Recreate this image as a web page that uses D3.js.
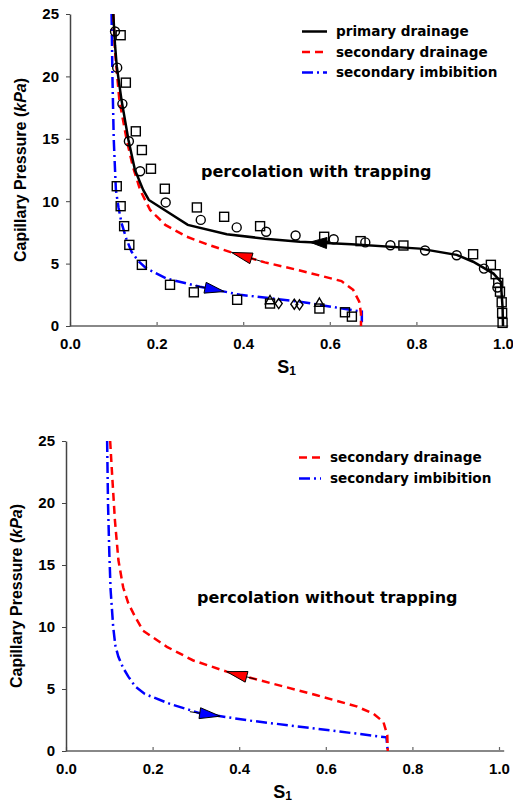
<!DOCTYPE html>
<html>
<head>
<meta charset="utf-8">
<script src="https://cdn.jsdelivr.net/npm/d3@7"></script>
<style>
  body { margin: 0; background: #fff; }
  svg { display: block; }
</style>
</head>
<body>
<svg id="chart" width="513" height="809"></svg>
<script>
// saturation S1 vs capillary pressure (kPa)

// --- top panel: percolation with trapping ---
const primaryDrainage = [
  [0.100, 25], [0.104, 22.5], [0.108, 20.8], [0.119, 18.1], [0.135, 14.9],
  [0.150, 12.5], [0.169, 10.9], [0.182, 10.1], [0.272, 8.1], [0.362, 7.35],
  [0.45, 7.0], [0.531, 6.76], [0.65, 6.55], [0.808, 6.2], [0.893, 5.7],
  [0.931, 5.15], [0.978, 4.2], [0.995, 3.55], [0.999, 1.5], [1.0, 0]
];
const secDrainageTrap = [
  [0.100, 25], [0.104, 22], [0.114, 18.1], [0.131, 14.9], [0.145, 12.8],
  [0.162, 10.9], [0.185, 9.3], [0.22, 8.1], [0.27, 7.15], [0.32, 6.5],
  [0.377, 5.85], [0.45, 5.1], [0.531, 4.45], [0.627, 3.6], [0.654, 2.9],
  [0.668, 1.95], [0.672, 1.0], [0.672, 0]
];
const secImbibitionTrap = [
  [0.096, 25], [0.098, 20], [0.101, 15], [0.104, 12.5], [0.106, 10.9],
  [0.112, 9.5], [0.119, 8.25], [0.13, 7.0], [0.142, 5.95], [0.158, 5.2],
  [0.177, 4.6], [0.223, 3.8], [0.30, 3.15], [0.393, 2.5], [0.531, 1.95],
  [0.674, 1.15], [0.674, 0]
];
const squarePts = [
  [0.117, 23.3], [0.129, 19.5], [0.152, 15.6], [0.166, 14.1], [0.187, 12.6],
  [0.108, 11.2], [0.117, 9.6], [0.125, 8.0], [0.137, 6.5], [0.166, 4.9],
  [0.231, 3.3], [0.286, 2.7], [0.386, 2.1], [0.219, 11.0], [0.293, 9.5],
  [0.356, 8.75], [0.439, 8.0], [0.587, 7.15], [0.671, 6.8], [0.77, 6.45],
  [0.931, 5.75], [0.972, 4.9], [0.983, 4.15], [0.989, 3.45], [0.993, 2.75],
  [0.997, 1.9], [0.998, 1.05], [0.999, 0.25], [0.462, 1.8], [0.576, 1.4],
  [0.635, 1.1], [0.651, 0.75]
];
const circlePts = [
  [0.104, 23.6], [0.109, 20.7], [0.121, 17.8], [0.136, 14.8], [0.162, 12.4],
  [0.221, 9.9], [0.302, 8.5], [0.385, 7.9], [0.453, 7.55], [0.521, 7.25],
  [0.609, 6.95], [0.682, 6.7], [0.74, 6.47], [0.82, 6.05], [0.893, 5.67],
  [0.956, 4.6], [0.987, 3.08]
];
const trianglePts = [[0.462, 2.0], [0.576, 1.8]];
const diamondPts = [[0.482, 1.8], [0.518, 1.75], [0.530, 1.7]];

// --- bottom panel: percolation without trapping ---
const secDrainageNoTrap = [
  [0.102, 25], [0.107, 22], [0.113, 18.6], [0.121, 15.4], [0.132, 13.2],
  [0.144, 11.9], [0.16, 10.8], [0.178, 9.7], [0.233, 8.4], [0.294, 7.3],
  [0.371, 6.4], [0.448, 5.7], [0.579, 4.5], [0.671, 3.6], [0.71, 3.0],
  [0.733, 2.35], [0.742, 1.27], [0.743, 0]
];
const secImbibitionNoTrap = [
  [0.095, 25], [0.097, 20], [0.100, 16], [0.103, 13], [0.109, 10],
  [0.114, 8.5], [0.121, 7.6], [0.132, 6.7], [0.144, 6.0], [0.160, 5.2],
  [0.182, 4.6], [0.24, 3.8], [0.309, 3.05], [0.425, 2.45], [0.579, 1.8],
  [0.74, 1.1], [0.743, 0]
];

const xTicks = [0, 0.2, 0.4, 0.6, 0.8, 1.0];
const yTicks = [0, 5, 10, 15, 20, 25];

const svg = d3.select('#chart');

const styles = {
  primary: { color: '#000', dash: null, name: 'primary drainage' },
  drainage: { color: '#ff0000', dash: '8,5', name: 'secondary drainage' },
  imbibition: { color: '#0000ff', dash: '11,4,2,4', name: 'secondary imbibition' }
};

// interpolate a point on a curve at a given saturation (screen coords)
function pointAt(data, s, x, y) {
  for (let i = 0; i < data.length - 1; i++) {
    const a = data[i], b = data[i + 1];
    if ((s >= a[0] && s <= b[0]) && b[0] > a[0]) {
      const t = (s - a[0]) / (b[0] - a[0]);
      return [x(s), y(a[1] + t * (b[1] - a[1]))];
    }
  }
  return [x(s), y(data[data.length - 1][1])];
}

function drawPanel(p) {
  const g = svg.append('g');
  const x = d3.scaleLinear([0, 1], p.xRange);
  const y = d3.scaleLinear([0, 25], p.yRange);

  // x axis
  const xa = g.append('g')
    .attr('transform', `translate(0,${y(0)})`)
    .call(d3.axisBottom(x).tickValues(xTicks).tickFormat(d3.format('.1f'))
      .tickSizeInner(-4).tickSizeOuter(0).tickPadding(12));
  xa.select('.domain').remove();
  xa.selectAll('.tick line').attr('stroke', '#666').attr('stroke-width', 1.2);
  xa.selectAll('text').attr('font-family', 'Liberation Sans, Arial, sans-serif')
    .attr('font-weight', 'bold').attr('font-size', 15).attr('fill', '#000');
  g.append('line')
    .attr('x1', x(0)).attr('x2', x(1.012))
    .attr('y1', y(0)).attr('y2', y(0))
    .attr('stroke', '#888').attr('stroke-width', 2);

  // y axis
  const ya = g.append('g')
    .attr('transform', `translate(${x(0)},0)`)
    .call(d3.axisLeft(y).tickValues(yTicks).tickSizeInner(4).tickSizeOuter(0).tickPadding(7));
  ya.select('.domain').attr('stroke', '#444').attr('stroke-width', 1.5);
  ya.selectAll('.tick line').attr('stroke', '#444');
  ya.selectAll('text').attr('font-family', 'Liberation Sans, Arial, sans-serif')
    .attr('font-weight', 'bold').attr('font-size', 15).attr('fill', '#000');

  // axis titles
  const yt = g.append('text')
    .attr('transform', `translate(${p.yTitleX},${(y(0) + y(25)) / 2}) rotate(-90)`)
    .attr('text-anchor', 'middle')
    .attr('font-family', 'Liberation Sans, Arial, sans-serif')
    .attr('font-weight', 'bold').attr('font-size', 16);
  yt.append('tspan').text('Capillary Pressure (');
  yt.append('tspan').attr('font-style', 'italic').text('kPa');
  yt.append('tspan').text(')');

  const xt = g.append('text')
    .attr('x', (x(0) + x(1)) / 2).attr('y', y(0) + 47)
    .attr('text-anchor', 'middle')
    .attr('font-family', 'Liberation Sans, Arial, sans-serif')
    .attr('font-weight', 'bold').attr('font-size', 18);
  xt.append('tspan').text('S');
  xt.append('tspan').attr('font-size', 12).attr('dy', 2).text('1');

  // curves
  const line = d3.line().x(d => x(d[0])).y(d => y(d[1]));
  p.curves.forEach(c => {
    const st = styles[c.kind];
    g.append('path')
      .datum(c.data)
      .attr('d', line)
      .attr('fill', 'none')
      .attr('stroke', st.color)
      .attr('stroke-width', 2.5)
      .attr('stroke-dasharray', st.dash);
  });

  // markers
  if (p.markers) {
    const m = g.append('g').attr('fill', 'none').attr('stroke', '#000').attr('stroke-width', 1.4);
    m.selectAll('rect').data(p.markers.squares).join('rect')
      .attr('x', d => x(d[0]) - 4.5).attr('y', d => y(d[1]) - 4.5)
      .attr('width', 9).attr('height', 9);
    m.selectAll('circle').data(p.markers.circles).join('circle')
      .attr('cx', d => x(d[0])).attr('cy', d => y(d[1])).attr('r', 4.5);
    m.selectAll('path.tri').data(p.markers.triangles).join('path').attr('class', 'tri')
      .attr('d', d3.symbol(d3.symbolTriangle, 40))
      .attr('transform', d => `translate(${x(d[0])},${y(d[1])})`);
    m.selectAll('path.dia').data(p.markers.diamonds).join('path').attr('class', 'dia')
      .attr('d', 'M0,-5L3.5,0L0,5L-3.5,0Z')
      .attr('transform', d => `translate(${x(d[0])},${y(d[1])})`);
  }

  // direction arrows
  p.arrows.forEach(a => {
    const c = p.curves.find(cc => cc.kind === a.kind);
    const tip = pointAt(c.data, a.tip, x, y);
    const base = pointAt(c.data, a.base, x, y);
    const dx = base[0] - tip[0], dy = base[1] - tip[1];
    const len = Math.hypot(dx, dy);
    const ux = dx / len, uy = dy / len;
    const half = 5.5;
    const tail = [base[0] + ux * 10, base[1] + uy * 10];
    g.append('line')
      .attr('x1', base[0]).attr('y1', base[1]).attr('x2', tail[0]).attr('y2', tail[1])
      .attr('stroke', '#000').attr('stroke-width', 1);
    g.append('path')
      .attr('d', `M${tip[0]},${tip[1]}L${base[0] - uy * half},${base[1] + ux * half}L${base[0] + uy * half},${base[1] - ux * half}Z`)
      .attr('fill', styles[a.kind].color)
      .attr('stroke', '#000').attr('stroke-width', 1);
  });

  // legend
  const lg = g.append('g');
  p.legend.kinds.forEach((k, i) => {
    const st = styles[k];
    const ly = p.legend.y + i * p.legend.step;
    lg.append('line')
      .attr('x1', p.legend.x).attr('x2', p.legend.x + p.legend.len)
      .attr('y1', ly).attr('y2', ly)
      .attr('stroke', st.color).attr('stroke-width', 2.5)
      .attr('stroke-dasharray', st.dash);
    lg.append('text')
      .attr('x', p.legend.x + p.legend.len + 9).attr('y', ly)
      .attr('dy', '0.35em')
      .attr('font-family', 'DejaVu Sans, Verdana, sans-serif')
      .attr('font-weight', 'bold').attr('font-size', 13.6)
      .text(st.name);
  });

  // annotation
  g.append('text')
    .attr('x', p.note.x).attr('y', p.note.y)
    .attr('dy', '0.35em')
    .attr('font-family', 'DejaVu Sans, Verdana, sans-serif')
    .attr('font-weight', 'bold').attr('font-size', 16)
    .text(p.note.text);
}

drawPanel({
  xRange: [70, 503], yRange: [326, 14], yTitleX: 26,
  curves: [
    { kind: 'imbibition', data: secImbibitionTrap },
    { kind: 'drainage', data: secDrainageTrap },
    { kind: 'primary', data: primaryDrainage }
  ],
  markers: { squares: squarePts, circles: circlePts, triangles: trianglePts, diamonds: diamondPts },
  arrows: [
    { kind: 'primary', tip: 0.554, base: 0.593 },
    { kind: 'drainage', tip: 0.373, base: 0.419 },
    { kind: 'imbibition', tip: 0.356, base: 0.312 }
  ],
  legend: { kinds: ['primary', 'drainage', 'imbibition'], x: 302, y: 31.5, step: 20.5, len: 25 },
  note: { x: 201, y: 171, text: 'percolation with trapping' }
});

drawPanel({
  xRange: [66, 499], yRange: [751, 441], yTitleX: 22,
  curves: [
    { kind: 'imbibition', data: secImbibitionNoTrap },
    { kind: 'drainage', data: secDrainageNoTrap }
  ],
  markers: null,
  arrows: [
    { kind: 'drainage', tip: 0.371, base: 0.417 },
    { kind: 'imbibition', tip: 0.356, base: 0.309 }
  ],
  legend: { kinds: ['drainage', 'imbibition'], x: 299, y: 457.5, step: 21, len: 22 },
  note: { x: 197, y: 597, text: 'percolation without trapping' }
});
</script>
</body>
</html>
